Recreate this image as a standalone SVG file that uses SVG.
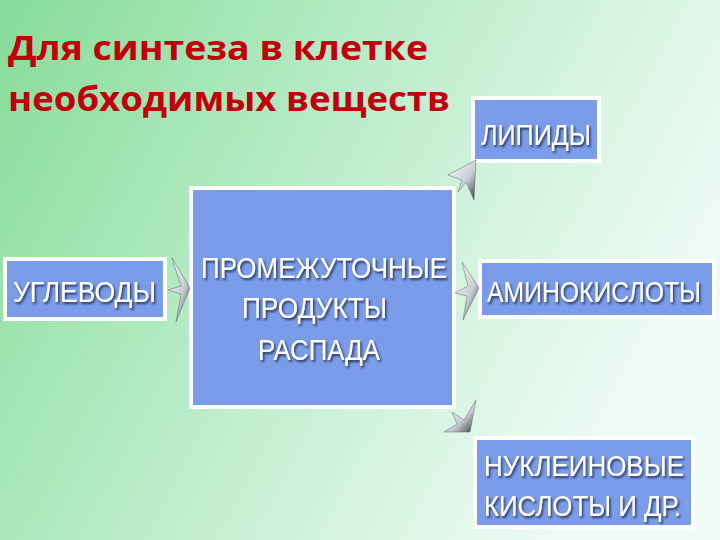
<svg xmlns="http://www.w3.org/2000/svg" width="720" height="540" viewBox="0 0 720 540">
<defs>
<linearGradient id="bg" x1="0" y1="0" x2="1" y2="0.4">
<stop offset="0" stop-color="#86dc98"/>
<stop offset="0.6" stop-color="#c6f0d4"/>
<stop offset="1" stop-color="#eefaf4"/>
</linearGradient>
<linearGradient id="ar" x1="0" y1="0" x2="1" y2="1">
<stop offset="0" stop-color="#ffffff"/>
<stop offset="0.6" stop-color="#c8ccd0"/>
<stop offset="1" stop-color="#303840"/>
</linearGradient>
<filter id="sh" x="-5%" y="-10%" width="110%" height="130%">
<feDropShadow dx="1.5" dy="2" stdDeviation="0.8" flood-color="#1a2a50" flood-opacity="0.9"/>
</filter>
</defs>
<style>
.box{fill:#7b9ce8;stroke:#ffffff;stroke-width:4}
.t{font-family:"Liberation Sans",Arial,sans-serif;font-size:30px;fill:#ffffff;filter:url(#sh)}
.title{font-family:"Open Sans","DejaVu Sans",sans-serif;font-weight:bold;font-size:34px;fill:#c0000c}
.arr{fill:url(#ar);stroke:#606870;stroke-width:0.5}
</style>
<rect width="720" height="540" fill="url(#bg)"/>
<text class="title" x="8" y="60" textLength="420" lengthAdjust="spacingAndGlyphs">Для синтеза  в клетке</text>
<text class="title" x="8" y="111" textLength="442" lengthAdjust="spacingAndGlyphs">необходимых веществ</text>
<g id="uglevody"><rect class="box" x="5" y="259" width="160" height="60"/>
<text class="t" x="13" y="302" textLength="143" lengthAdjust="spacingAndGlyphs">УГЛЕВОДЫ</text></g>
<g id="center"><rect class="box" x="191" y="188" width="263" height="219"/>
<text class="t" x="201" y="278" textLength="246" lengthAdjust="spacingAndGlyphs">ПРОМЕЖУТОЧНЫЕ</text>
<text class="t" x="242" y="318" textLength="145" lengthAdjust="spacingAndGlyphs">ПРОДУКТЫ</text>
<text class="t" x="258" y="360" textLength="122" lengthAdjust="spacingAndGlyphs">РАСПАДА</text></g>
<g id="lipidy"><rect class="box" x="473" y="98" width="126" height="63"/>
<text class="t" x="481" y="145" textLength="110" lengthAdjust="spacingAndGlyphs">ЛИПИДЫ</text></g>
<g id="amino"><rect class="box" x="480" y="261" width="234" height="56"/>
<text class="t" x="487" y="302" textLength="214" lengthAdjust="spacingAndGlyphs">АМИНОКИСЛОТЫ</text></g>
<g id="nukl"><rect class="box" x="475" y="438" width="218" height="89"/>
<text class="t" x="484" y="476" textLength="200" lengthAdjust="spacingAndGlyphs">НУКЛЕИНОВЫЕ</text>
<text class="t" x="484" y="516" textLength="197" lengthAdjust="spacingAndGlyphs">КИСЛОТЫ И ДР.</text></g>
<g id="connectors">
<polygon class="arr" points="172,258 190,288 176,322 181,294 168,290 181,286"/>
<polygon class="arr" points="462,262 479,288 463,320 467,296 455,293 468,286"/>
<polygon class="arr" points="448,175 476,160 474,200 466,182 458,192 462,180"/>
<polygon class="arr" points="476,400 470,432 444,432 457,424 452,412 464,420"/>
</g>
</svg>
